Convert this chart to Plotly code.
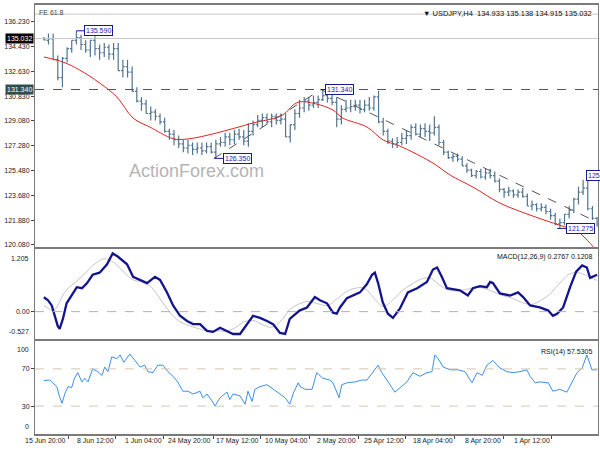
import plotly.graph_objects as go

# ---------------- data (bar index 0 = 25 Mar 2022, oldest; axis is drawn reversed) -------------
opens = [121.6,122.0,122.7,124.2,123.9,123.4,122.6,122.3,121.7,121.6,
         122.2,122.5,122.8,122.7,123.0,122.9,123.6,123.9,123.7,124.0,
         123.9,124.1,124.7,125.1,125.3,125.0,125.4,125.1,125.5,125.8,
         126.3,126.5,126.4,126.8,127.5,128.6,128.2,128.3,128.5,128.1,
         128.6,128.0,127.8,127.5,127.4,127.6,128.3,129.0,130.8,130.0,
         130.2,129.9,130.2,130.1,130.0,129.9,129.2,130.4,130.7,130.9,
         130.6,130.4,130.2,130.5,130.0,129.6,128.8,127.9,129.2,129.1,
         129.4,129.0,129.3,129.1,128.8,128.3,127.6,127.9,128.1,127.7,
         127.9,127.5,127.4,126.8,127.2,126.9,127.1,127.0,127.3,127.1,
         127.4,127.7,128.1,128.3,129.0,129.4,129.7,129.6,130.3,130.5,
         131.2,132.6,133.0,132.7,134.3,133.9,134.4,134.0,134.3,134.9,
         134.2,134.6,135.1,134.9,134.3,133.6,132.2,133.5,135.0,134.933]
highs = [122.1,122.9,125.0,124.8,124.3,123.5,122.9,122.3,122.0,122.4,
         122.7,123.0,123.1,123.1,123.3,123.8,124.2,124.1,124.1,124.3,
         124.2,124.9,125.4,125.6,125.6,125.6,125.5,125.6,126.0,126.5,
         126.7,126.7,126.9,127.7,128.8,129.4,128.8,128.9,128.8,128.9,
         128.8,128.4,128.2,127.9,127.8,128.5,129.3,131.25,130.9,130.8,
         130.6,130.6,130.6,130.6,130.6,130.2,130.8,131.1,131.3,131.34,
         130.9,130.9,130.8,130.8,130.6,129.9,128.8,129.6,129.6,129.6,
         129.6,129.6,129.6,129.5,129.1,128.9,128.4,128.5,128.4,128.2,
         128.2,127.9,127.7,127.5,127.5,127.5,127.5,127.5,127.7,127.7,
         128.0,128.4,128.5,129.3,129.6,129.9,130.1,130.6,130.8,131.5,
         133.0,133.5,133.5,134.7,134.7,134.6,134.7,134.6,135.2,134.9,
         134.9,135.3,135.59,134.9,134.4,133.7,133.8,135.4,135.4,135.138]
lows = [121.4,121.9,122.6,123.7,123.0,122.4,122.0,121.5,121.275,121.5,
        121.9,122.3,122.5,122.5,122.6,122.9,123.5,123.5,123.5,123.6,
        123.5,123.9,124.6,124.9,124.8,124.9,124.9,125.0,125.3,125.8,
        126.1,126.1,126.3,126.6,127.3,128.0,127.6,127.9,127.9,128.0,
        127.7,127.4,127.3,127.1,127.1,127.4,128.0,128.9,129.8,129.8,
        129.7,129.6,129.8,129.7,129.7,128.8,128.6,130.2,130.4,130.5,
        130.0,130.0,129.8,129.7,129.3,128.4,127.5,127.9,128.8,128.8,
        128.6,128.8,128.6,128.6,128.0,127.2,127.3,127.7,127.4,127.3,
        127.2,127.2,126.35,126.7,126.7,126.6,126.7,126.6,126.7,126.8,
        127.1,127.3,127.7,128.2,128.8,129.1,129.1,129.6,129.8,130.4,
        131.2,132.2,132.2,132.7,133.5,133.5,133.7,133.5,133.8,133.7,
        134.0,134.2,134.6,134.0,133.3,131.5,132.0,133.5,134.6,134.915]
closes = [122.0,122.7,124.2,123.9,123.4,122.6,122.3,121.7,121.6,122.2,
          122.5,122.8,122.7,123.0,122.9,123.6,123.9,123.7,124.0,123.9,
          124.1,124.7,125.1,125.3,125.0,125.4,125.1,125.5,125.8,126.3,
          126.5,126.4,126.8,127.5,128.6,128.2,128.3,128.5,128.1,128.6,
          128.0,127.8,127.5,127.4,127.6,128.3,129.0,130.8,130.0,130.2,
          129.9,130.2,130.1,130.0,129.9,129.2,130.4,130.7,130.9,130.6,
          130.4,130.2,130.5,130.0,129.6,128.8,127.9,129.2,129.1,129.4,
          129.0,129.3,129.1,128.8,128.3,127.6,127.9,128.1,127.7,127.9,
          127.5,127.4,126.8,127.2,126.9,127.1,127.0,127.3,127.1,127.4,
          127.7,128.1,128.3,129.0,129.4,129.7,129.6,130.3,130.5,131.2,
          132.6,133.0,132.7,134.3,133.9,134.4,134.0,134.3,134.9,134.2,
          134.6,135.1,134.9,134.3,133.6,132.2,133.5,135.0,134.9,135.032]
bar_x = list(range(len(closes)))

ma_x = [0, 1.5, 4.3, 8.0, 13.8, 20.9, 26.7, 31.6, 35.3, 42.4, 46.0, 49.5, 54.7, 56.8,
        60.5, 63.9, 65.4, 67.6, 74.7, 81.8, 88.2, 91.2, 96.2, 99.8, 103.3, 107.0, 111.3, 114.9, 119.0]
ma_y = [119.6, 120.2, 121.08, 121.5, 122.17, 123.11, 124.27, 125.14, 126.01, 127.24, 127.68, 128.62,
        129.27, 129.85, 130.3, 130.45, 130.2, 129.5, 128.85, 128.19, 127.75, 127.78, 128.62, 129.27,
        130.8, 131.81, 132.75, 133.33, 133.69]

macd_x = [0, 0.9, 1.5, 2.2, 3.2, 4.5, 5.8, 7.3, 8.6, 9.5, 10.5, 12.3, 14.4, 15.9, 17.0, 18.7, 20.9,
          22.4, 23.0, 23.7, 25.2, 26.7, 27.8, 29.5, 32.3, 33.4, 34.4, 35.3, 36.6, 38.7, 40.7, 42.4,
          43.9, 45.0, 46.1, 47.1, 47.8, 48.4, 49.5, 51.0, 53.8, 55.3, 56.0, 56.8, 58.1, 59.6, 60.7,
          62.4, 64.0, 66.1, 67.1, 68.2, 69.7, 71.0, 72.5, 74.0, 75.3, 76.8, 78.3, 79.6, 81.1, 82.6,
          83.9, 85.4, 86.9, 88.2, 89.7, 91.2, 92.5, 94.0, 95.1, 96.8, 98.3, 99.8, 101.1, 103.1, 104.2,
          105.4, 107.0, 108.5, 109.7, 110.8, 111.9, 113.0, 114.1, 114.9, 115.6, 116.0, 116.6, 117.3,
          118.1, 119.0]
macd_v = [0.71, 0.67, 0.65, 0.85, 0.89, 0.77, 0.47, 0.08, -0.04, -0.08, 0.02, 0.08, 0.12, 0.28, 0.37,
          0.31, 0.35, 0.55, 0.57, 0.47, 0.49, 0.45, 0.31, 0.41, 0.45, 0.67, 0.85, 0.81, 0.57, 0.45,
          0.37, 0.06, -0.12, -0.04, 0.18, 0.55, 0.75, 0.71, 0.53, 0.37, 0.26, 0.08, -0.04, -0.02, 0.16,
          0.22, 0.28, 0.08, 0.02, -0.14, -0.43, -0.41, -0.24, -0.18, -0.12, -0.08, -0.24, -0.43, -0.43,
          -0.37, -0.31, -0.39, -0.37, -0.24, -0.24, -0.18, -0.08, 0.12, 0.37, 0.61, 0.67, 0.55, 0.61,
          0.67, 0.91, 1.06, 1.12, 0.91, 0.75, 0.71, 0.55, 0.45, 0.47, 0.31, 0.16, -0.14, -0.33, -0.28,
          -0.08, 0.12, 0.22, 0.2767]

signal_x = [0, 2, 4, 6, 8, 10, 12, 14, 16, 18, 20, 22, 24, 26, 28, 30, 32, 34, 36, 38, 40, 42, 44,
            46, 48, 50, 52, 54, 56, 58, 60, 62, 64, 66, 68, 70, 72, 74, 76, 78, 80, 82, 84, 86, 88,
            90, 92, 94, 96, 98, 100, 102, 104, 106, 108, 110, 112, 114, 115, 116, 117, 118, 119]
signal_v = [0.60, 0.68, 0.75, 0.72, 0.55, 0.35, 0.22, 0.14, 0.17, 0.25, 0.30, 0.37, 0.44, 0.47, 0.43,
            0.40, 0.42, 0.52, 0.65, 0.62, 0.52, 0.40, 0.22, 0.10, 0.26, 0.45, 0.45, 0.38, 0.24, 0.12,
            0.15, 0.20, 0.15, 0.05, -0.18, -0.30, -0.25, -0.17, -0.20, -0.32, -0.38, -0.36, -0.37,
            -0.32, -0.26, -0.18, 0.0, 0.25, 0.48, 0.57, 0.62, 0.78, 0.95, 1.02, 0.92, 0.75, 0.58, 0.43,
            0.30, 0.12, 0.02, 0.06, 0.1208]

rsi_x = [0, 1.1, 2.2, 3.2, 4.3, 5.4, 6.5, 8.0, 9.5, 10.5, 12.3, 13.3, 14.4, 15.1, 16.6, 18.1, 19.4,
         20.9, 22.4, 23.7, 24.7, 25.8, 26.9, 28.4, 29.9, 31.6, 33.1, 34.2, 34.9, 35.5, 36.6, 38.1,
         39.6, 40.9, 42.4, 43.5, 45.2, 46.3, 47.1, 48.4, 49.5, 50.6, 52.1, 53.8, 54.9, 55.5, 56.0,
         56.8, 57.5, 59.0, 60.3, 61.3, 62.8, 63.9, 64.3, 65.4, 66.1, 67.1, 68.2, 69.7, 71.0, 72.5,
         73.6, 74.2, 75.1, 75.7, 76.8, 78.3, 79.0, 79.6, 81.1, 82.2, 82.6, 83.9, 84.8, 85.4, 86.9,
         88.0, 89.1, 90.2, 91.2, 92.3, 93.4, 94.5, 95.5, 96.6, 97.3, 98.3, 99.4, 100.5, 101.8, 102.6,
         103.3, 104.4, 105.2, 105.9, 106.5, 107.4, 108.5, 109.5, 110.2, 110.8, 111.7, 112.4, 113.0,
         113.8, 114.5, 115.1, 115.8, 116.2, 117.1, 117.7, 119.0]
rsi_v = [69, 69, 85, 71, 66, 55, 45, 48, 46, 55, 56, 55, 62, 69, 67, 66, 67,
         71, 79, 74, 63, 66, 55, 67, 69, 69, 72, 81, 85, 67, 66, 62,
         66, 56, 50, 45, 58, 66, 74, 66, 58, 58, 56, 55, 53, 39, 45,
         55, 58, 60, 66, 48, 48, 51, 55, 43, 32, 39, 43, 48, 53, 51,
         48, 35, 46, 32, 41, 43, 37, 45, 39, 30, 34, 43, 39, 46, 43,
         46, 46, 56, 62, 67, 74, 74, 66, 67, 74, 72, 79, 86, 77, 85,
         81, 83, 67, 72, 63, 67, 70, 56, 60, 56, 66, 60, 50,
         51, 43, 33, 43, 51, 55, 58, 57.53]

price_tick_vals = [136.23, 134.43, 132.63, 130.83, 129.08, 127.28, 125.48, 123.68, 121.88, 120.08]
price_tick_text = ["136.230", "134.430", "132.630", "130.830", "129.080", "127.280",
                   "125.480", "123.680", "121.880", "120.080"]
time_labels = ["25 Mar 2022", "1 Apr 12:00", "8 Apr 20:00", "18 Apr 04:00", "25 Apr 12:00",
               "2 May 20:00", "10 May 04:00", "17 May 12:00", "24 May 20:00", "1 Jun 04:00",
               "8 Jun 12:00", "15 Jun 20:00"]
time_label_pos = [-0.6, 9.7, 20.2, 30.6, 41.1, 51.4, 61.8, 72.3, 82.6, 93.2, 103.5, 113.8]

zigzag_labels = ["125.090", "121.275", "131.340", "126.350", "135.590"]
zigzag_x = [2.2, 8.6, 59.4, 82.4, 112.0]
zigzag_y = [125.09, 121.275, 131.34, 126.35, 135.59]

bid_price = 135.032
level_price = 131.34
fe_price = 136.8

FONT = "Liberation Sans"
BAR_C = "#52768f"
AXC = "#7a7a7a"

fig = go.Figure()

fig.add_trace(go.Ohlc(x=bar_x, open=opens, high=highs, low=lows, close=closes,
                      increasing=dict(line=dict(color=BAR_C, width=1.2)),
                      decreasing=dict(line=dict(color=BAR_C, width=1.2)),
                      tickwidth=0.4, xaxis="x", yaxis="y", hoverinfo="skip"))
fig.add_trace(go.Scatter(x=ma_x, y=ma_y, mode="lines", line=dict(color="#e02424", width=1, shape="spline"),
                         xaxis="x", yaxis="y"))
# zigzag dashed lines
fig.add_trace(go.Scatter(x=[zigzag_x[3], zigzag_x[2]], y=[zigzag_y[3], zigzag_y[2]], mode="lines",
                         line=dict(color="#555555", width=1, dash="dash"), xaxis="x", yaxis="y"))
fig.add_trace(go.Scatter(x=[zigzag_x[2], 0.9], y=[zigzag_y[2], 121.88], mode="lines",
                         line=dict(color="#555555", width=1, dash="dash"), xaxis="x", yaxis="y"))

fig.add_trace(go.Scatter(x=signal_x, y=signal_v, mode="lines", line=dict(color="#c4c4c4", width=1, shape="spline"),
                         xaxis="x2", yaxis="y2"))
fig.add_trace(go.Scatter(x=macd_x, y=macd_v, mode="lines", line=dict(color="#14148c", width=2.3),
                         xaxis="x2", yaxis="y2"))
fig.add_trace(go.Scatter(x=rsi_x, y=rsi_v, mode="lines", line=dict(color="#3d8fe6", width=1),
                         xaxis="x3", yaxis="y3"))

XR = [120.9, -0.2]
common_x = dict(range=XR, showgrid=False, zeroline=False, showline=True, mirror=True,
                linecolor=AXC, linewidth=1.5, fixedrange=True)
common_y = dict(showgrid=False, zeroline=False, showline=True, mirror=True, linecolor=AXC, linewidth=1,
                ticks="outside", ticklen=3, tickcolor="#444", tickfont=dict(family=FONT, size=7, color="#222"))

fig.update_layout(
    width=600, height=450,
    margin=dict(l=35, r=2, t=5, b=16),
    paper_bgcolor="white", plot_bgcolor="white",
    showlegend=False,
    xaxis=dict(**common_x, anchor="y", showticklabels=False, rangeslider=dict(visible=False)),
    yaxis=dict(**common_y, domain=[0.4359, 1.0], range=[119.93, 137.46],
               tickvals=price_tick_vals, ticktext=price_tick_text),
    xaxis2=dict(**common_x, anchor="y2", showticklabels=False),
    yaxis2=dict(**common_y, domain=[0.2214, 0.4312], range=[-0.527, 1.205], tickvals=[0], ticktext=["0.00"]),
    xaxis3=dict(**common_x, anchor="y3", showticklabels=False, tickvals=time_label_pos,
                ticks="outside", ticklen=3, tickcolor="#444"),
    yaxis3=dict(**common_y, domain=[0.0, 0.2168], range=[0, 100], tickvals=[30, 70], ticktext=["30", "70"]),
)

shapes = [
    dict(type="line", xref="paper", x0=0, x1=1, yref="y", y0=fe_price, y1=fe_price,
         line=dict(color="#c8c8c8", width=1)),
    dict(type="line", xref="paper", x0=0, x1=1, yref="y", y0=bid_price, y1=bid_price,
         line=dict(color="#c8c8c8", width=1)),
    dict(type="line", xref="paper", x0=0, x1=1, yref="y", y0=level_price, y1=level_price,
         line=dict(color="#555555", width=1, dash="dash")),
    dict(type="line", xref="paper", x0=0, x1=1, yref="y2", y0=0, y1=0,
         line=dict(color="#b0b0b0", width=1, dash="dash")),
    dict(type="line", xref="paper", x0=0, x1=1, yref="y3", y0=70, y1=70,
         line=dict(color="#d4c6b0", width=1, dash="dash")),
    dict(type="line", xref="paper", x0=0, x1=1, yref="y3", y0=30, y1=30,
         line=dict(color="#d4c6b0", width=1, dash="dash")),
]
fig.update_layout(shapes=shapes)

ann = []
f7 = dict(family=FONT, size=7, color="#222")
# header & indicator captions
ann.append(dict(text="▼ USDJPY,H4  134.933 135.138 134.915 135.032", xref="paper", yref="paper",
                x=1, y=1, xanchor="right", yanchor="top", xshift=-4, yshift=-2, showarrow=False,
                font=dict(family=FONT, size=7.5, color="#111")))
ann.append(dict(text="FE 61.8", xref="paper", yref="paper", x=0, y=1, xanchor="left", yanchor="top",
                xshift=2, yshift=-2, showarrow=False, font=dict(family=FONT, size=7, color="#444")))
ann.append(dict(text="MACD(12,26,9) 0.2767 0.1208", xref="paper", yref="paper", x=1, y=0.4312,
                xanchor="right", yanchor="top", xshift=-4, yshift=-2, showarrow=False,
                font=dict(family=FONT, size=7, color="#111")))
ann.append(dict(text="RSI(14) 57.5305", xref="paper", yref="paper", x=1, y=0.2168,
                xanchor="right", yanchor="top", xshift=-4, yshift=-5, showarrow=False,
                font=dict(family=FONT, size=7, color="#111")))
# watermark
ann.append(dict(text="ActionForex.com", xref="paper", yref="y", x=0.287, y=125.45, xanchor="center",
                showarrow=False, font=dict(family=FONT, size=18, color="#b4b4b4")))
# axis price boxes
ann.append(dict(text="135.032", xref="paper", yref="y", x=0, y=bid_price, xanchor="right", xshift=-1,
                showarrow=False, bgcolor="#000000", borderpad=1,
                font=dict(family=FONT, size=7, color="white")))
ann.append(dict(text="131.340", xref="paper", yref="y", x=0, y=level_price, xanchor="right", xshift=-1,
                showarrow=False, bgcolor="#2f4f4f", borderpad=1,
                font=dict(family=FONT, size=7, color="white")))
# edge labels of sub windows
for txt, yv, yr, anc, ys in [("1.205", 1.205, "y2", "top", -4), ("-0.527", -0.527, "y2", "bottom", 2),
                             ("100", 100, "y3", "top", -3), ("0", 0, "y3", "bottom", 2)]:
    ann.append(dict(text=txt, xref="paper", yref=yr, x=0, y=yv, xanchor="right", yanchor=anc,
                    xshift=-4, yshift=ys, showarrow=False, font=f7))
# zigzag value boxes
zz_ax = [19, 23, 19, 24, 22]
for txt, xv, yv, axv in zip(zigzag_labels, zigzag_x, zigzag_y, zz_ax):
    ann.append(dict(text=txt, x=xv, y=yv, xref="x", yref="y", showarrow=True, arrowhead=0,
                    arrowwidth=1, arrowcolor="#1a1a90", ax=axv, ay=0, bgcolor="white",
                    bordercolor="#1a1a90", borderwidth=1, borderpad=1,
                    font=dict(family=FONT, size=7, color="#1a1ab0")))
# time labels
for txt, xv in zip(time_labels, time_label_pos):
    ann.append(dict(text=txt, x=xv, xref="x3", y=0, yref="paper", xanchor="right", yanchor="top",
                    yshift=-1, showarrow=False, font=f7))
fig.update_layout(annotations=ann)

fig.write_html("out.html", config={"displayModeBar": False},
               post_script="document.body.style.margin='0';document.body.style.overflow='hidden';")
